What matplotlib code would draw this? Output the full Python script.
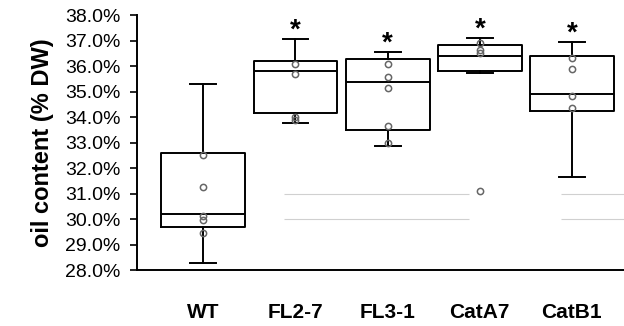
import matplotlib
matplotlib.use("Agg")
import matplotlib.pyplot as plt
from matplotlib.ticker import FuncFormatter, MultipleLocator

plt.rcParams['font.family'] = ['Liberation Sans', 'DejaVu Sans']

categories = ["WT", "FL2-7", "FL3-1", "CatA7", "CatB1"]
whis_lo = [28.29, 33.78, 32.88, 35.74, 31.66]
q1 = [29.70, 34.17, 33.49, 35.80, 34.25]
median = [30.20, 35.80, 35.39, 36.40, 34.89]
q3 = [32.60, 36.20, 36.26, 36.81, 36.39]
whis_hi = [35.29, 37.06, 36.54, 37.08, 36.93]
points = [
    [32.50, 31.24, 30.10, 29.96, 29.45],
    [36.08, 35.69, 34.00, 33.90],
    [36.07, 35.58, 35.12, 33.66, 32.98],
    [36.90, 36.63, 36.50, 31.11],
    [36.30, 35.87, 34.82, 34.34],
]
significant = [False, True, True, True, True]

fig = plt.figure(figsize=(6.24, 3.26), dpi=100)
ax = fig.add_axes([137/624, 1-270/326, 1-137/624, (270-15)/326])

# faint background lines
ax.hlines([30, 31], 0.87, 2.88, color='#d0d0d0', lw=0.8, zorder=0)
ax.hlines([30, 31], 3.88, 4.8, color='#d0d0d0', lw=0.8, zorder=0)

stats = []
for i, c in enumerate(categories):
    stats.append(dict(label=c, whislo=whis_lo[i], q1=q1[i], med=median[i],
                      q3=q3[i], whishi=whis_hi[i], fliers=[]))

lw = 1.4
ax.bxp(stats, positions=range(len(categories)), widths=0.91, showfliers=False,
       boxprops=dict(color='black', lw=lw),
       medianprops=dict(color='black', lw=lw),
       whiskerprops=dict(color='black', lw=lw),
       capprops=dict(color='black', lw=lw), capwidths=0.28)

for i, pts in enumerate(points):
    ax.plot([i]*len(pts), pts, 'o', ms=4.5, mfc='none', mec='#666666', mew=1.1, zorder=5)

for i, s in enumerate(significant):
    if s:
        ax.annotate('*', (i, whis_hi[i]), xytext=(0, -3), textcoords='offset points',
                    ha='center', va='bottom', fontsize=20, fontweight='bold')

ax.set_ylim(28, 38)
ax.set_xlim(-0.72, 4.565)
ax.yaxis.set_major_locator(MultipleLocator(1))
ax.yaxis.set_major_formatter(FuncFormatter(lambda v, p: f"{v:.1f}%"))
ax.set_xticks(range(len(categories)))
ax.set_xticklabels(categories, fontsize=15, fontweight='bold')
ax.tick_params(axis='x', length=0, pad=24)
ax.tick_params(axis='y', length=5, width=1.2, labelsize=14, pad=7)
for s in ['top', 'right']:
    ax.spines[s].set_visible(False)
for s in ['left', 'bottom']:
    ax.spines[s].set_linewidth(1.4)
ax.set_ylabel('oil content (% DW)', fontsize=17, fontweight='bold', labelpad=8)

fig.savefig('out.png', dpi=100)
